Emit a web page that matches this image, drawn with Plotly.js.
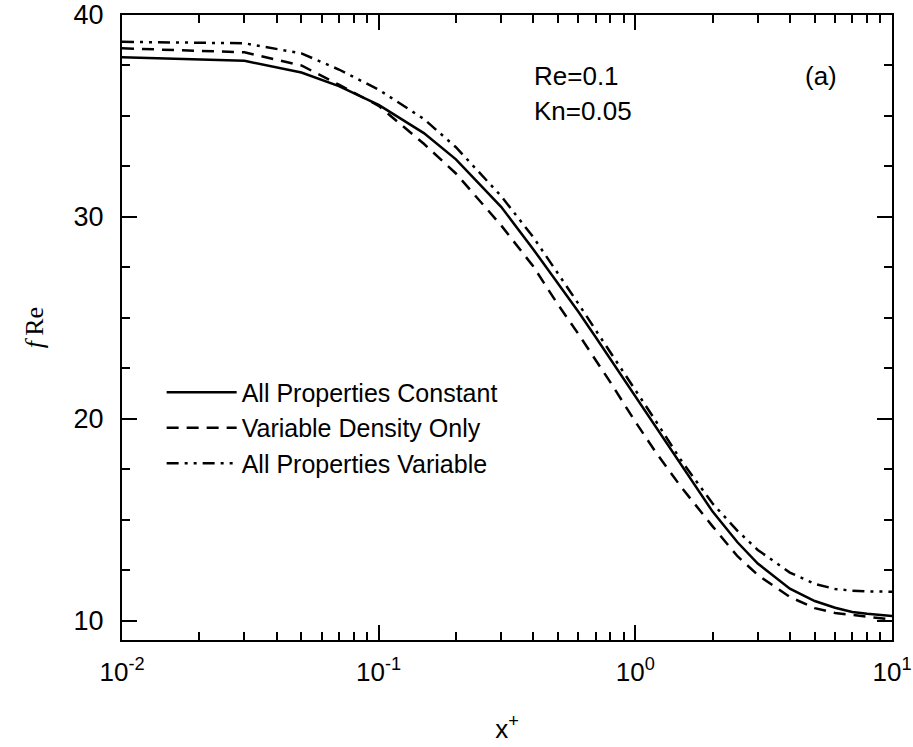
<!DOCTYPE html>
<html>
<head>
<meta charset="utf-8">
<script src="https://cdn.plot.ly/plotly-3.0.1.min.js"></script>
<style>html,body{margin:0;padding:0;background:#fff;}#chart{width:913px;height:747px;}</style>
</head>
<body>
<div id="chart"></div>
<script>
// x+ values (axial coordinate)
var xPlus = [0.01, 0.03, 0.05, 0.07, 0.1, 0.15, 0.2, 0.3, 0.4, 0.5, 0.6, 0.7, 0.8, 1.0, 1.2, 1.5, 2.0, 2.5, 3.0, 4.0, 5.0, 6.0, 7.0, 8.0, 10.0];
// fRe - All Properties Constant
var fReConstant = [37.91, 37.73, 37.15, 36.48, 35.55, 34.15, 32.85, 30.5, 28.4, 26.7, 25.3, 24.05, 22.95, 21.07, 19.58, 17.75, 15.4, 13.88, 12.83, 11.58, 10.97, 10.64, 10.43, 10.34, 10.23];
// fRe - Variable Density Only
var fReDensity = [38.35, 38.15, 37.5, 36.55, 35.5, 33.62, 32.15, 29.58, 27.55, 25.65, 24.2, 22.94, 21.8, 19.85, 18.35, 16.66, 14.67, 13.19, 12.26, 11.17, 10.62, 10.38, 10.27, 10.18, 10.05];
// fRe - All Properties Variable
var fReVariable = [38.67, 38.6, 38.1, 37.3, 36.3, 34.85, 33.45, 31.03, 29.0, 27.2, 25.7, 24.4, 23.3, 21.45, 19.9, 17.98, 15.8, 14.45, 13.5, 12.38, 11.82, 11.57, 11.48, 11.45, 11.43];

var seriesNames = ['All Properties Constant', 'Variable Density Only', 'All Properties Variable'];

var xTickVals = [0.01, 0.1, 1, 10];
var xTickText = ['10<sup>-2</sup>', '10<sup>-1</sup>', '10<sup>0</sup>', '10<sup>1</sup>'];
var xMinorVals = [0.02,0.03,0.04,0.05,0.06,0.07,0.08,0.09,0.2,0.3,0.4,0.5,0.6,0.7,0.8,0.9,2,3,4,5,6,7,8,9];
var yTickVals = [10, 20, 30, 40];

var lineW = 2.5;
var traces = [
  {x: xPlus, y: fReConstant, name: seriesNames[0], mode: 'lines', line: {color: '#000', width: lineW, dash: 'solid'}},
  {x: xPlus, y: fReDensity, name: seriesNames[1], mode: 'lines', line: {color: '#000', width: lineW, dash: '12px,8px'}},
  {x: xPlus, y: fReVariable, name: seriesNames[2], mode: 'lines', line: {color: '#000', width: lineW, dash: '12px,6px,3px,6px,3px,6px'}}
];

var font = 'Liberation Sans, Arial, sans-serif';
var layout = {
  width: 913, height: 747,
  margin: {l: 122, r: 21, t: 15, b: 107},
  paper_bgcolor: '#fff', plot_bgcolor: '#fff',
  showlegend: true,
  legend: {x: 0.0515, y: 0.433, xanchor: 'left', yanchor: 'top', bgcolor: 'rgba(0,0,0,0)',
           font: {family: font, size: 25, color: '#000'}, itemwidth: 70, tracegroupgap: 0},
  xaxis: {
    type: 'log', range: [-2, 1],
    tickmode: 'array', tickvals: xTickVals, ticktext: xTickText,
    ticks: 'inside', ticklen: 15, tickwidth: 2, tickcolor: '#000',
    showline: true, linewidth: 2, linecolor: '#000', mirror: 'allticks',
    showgrid: false, zeroline: false,
    tickfont: {family: font, size: 26, color: '#000'},
    ticklabelstandoff: 8,
    minor: {tickmode: 'array', tickvals: xMinorVals, ticks: 'inside', ticklen: 8, tickwidth: 2, tickcolor: '#000', showgrid: false},
    title: {text: 'x<sup>+</sup>', font: {family: font, size: 26, color: '#000'}, standoff: 34}
  },
  yaxis: {
    range: [9.04, 40],
    tickmode: 'array', tickvals: yTickVals,
    ticks: 'inside', ticklen: 15, tickwidth: 2, tickcolor: '#000',
    showline: true, linewidth: 2, linecolor: '#000', mirror: 'allticks',
    showgrid: false, zeroline: false,
    tickfont: {family: font, size: 27, color: '#000'},
    ticklabelstandoff: 11,
    minor: {dtick: 2.5, tick0: 10, ticks: 'inside', ticklen: 8, tickwidth: 2, tickcolor: '#000', showgrid: false},
    title: {text: '<i>f</i>\u2009Re', font: {family: 'Liberation Serif, Times New Roman, serif', size: 26, color: '#000'}, standoff: 22}
  },
  annotations: [
    {xref: 'paper', yref: 'paper', x: 0.532, y: 0.903, xanchor: 'left', yanchor: 'middle', showarrow: false,
     text: 'Re=0.1', font: {family: font, size: 26, color: '#000'}},
    {xref: 'paper', yref: 'paper', x: 0.532, y: 0.847, xanchor: 'left', yanchor: 'middle', showarrow: false,
     text: 'Kn=0.05', font: {family: font, size: 26, color: '#000'}},
    {xref: 'paper', yref: 'paper', x: 0.884, y: 0.903, xanchor: 'left', yanchor: 'middle', showarrow: false,
     text: '(a)', font: {family: font, size: 26, color: '#000'}}
  ]
};

Plotly.newPlot('chart', traces, layout, {displayModeBar: false, staticPlot: true});
</script>
</body>
</html>
